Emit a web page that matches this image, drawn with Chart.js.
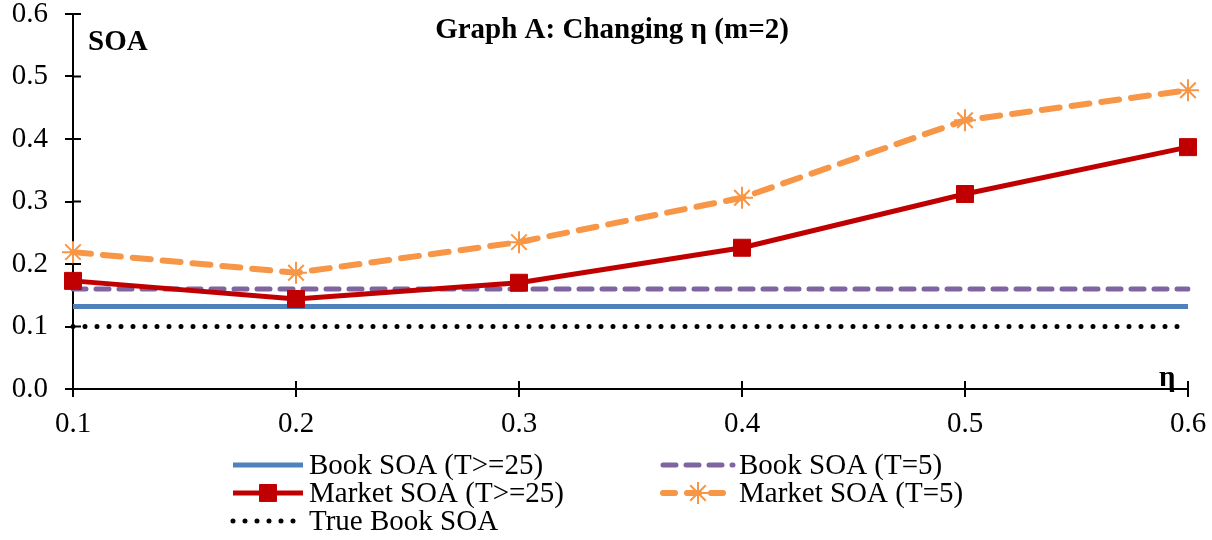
<!DOCTYPE html>
<html>
<head>
<meta charset="utf-8">
<script src="https://cdn.jsdelivr.net/npm/chart.js@4"></script>
<style>
  html, body { margin: 0; padding: 0; background: #fff; }
  canvas { display: block; }
</style>
</head>
<body>
<canvas id="soaChart" width="1212" height="540"></canvas>
<script>
const etaLabels = ["0.1", "0.2", "0.3", "0.4", "0.5", "0.6"];
const bookLong = [0.132, 0.132, 0.132, 0.132, 0.132, 0.132];
const bookShort = [0.16, 0.16, 0.16, 0.16, 0.16, 0.16];
const marketLong = [0.173, 0.144, 0.17, 0.226, 0.312, 0.387];
const marketShort = [0.219, 0.186, 0.235, 0.306, 0.43, 0.478];
const trueBook = [0.1, 0.1, 0.1, 0.1, 0.1, 0.1];
const yTicks = [0, 0.1, 0.2, 0.3, 0.4, 0.5, 0.6];

const serif = "'Liberation Serif', 'Times New Roman', serif";

// tick marks that cross the axes, title, axis captions and a two-column legend
const extras = {
  id: "extras",
  afterDraw(chart) {
    const { ctx, chartArea, scales } = chart;
    ctx.save();
    ctx.strokeStyle = "#000";
    ctx.lineWidth = 2;
    yTicks.forEach((v) => {
      const y = scales.y.getPixelForValue(v);
      ctx.beginPath();
      ctx.moveTo(chartArea.left, y);
      ctx.lineTo(chartArea.left + 8, y);
      ctx.stroke();
    });
    etaLabels.forEach((_, i) => {
      const x = scales.x.getPixelForValue(i);
      ctx.beginPath();
      ctx.moveTo(x, chartArea.bottom);
      ctx.lineTo(x, chartArea.bottom - 8);
      ctx.stroke();
    });

    ctx.fillStyle = "#000";
    ctx.font = "bold 29px " + serif;
    ctx.textAlign = "center";
    ctx.textBaseline = "middle";
    ctx.fillText("Graph A: Changing η (m=2)", 612, 31);
    ctx.textAlign = "left";
    ctx.fillText("SOA", 88, 43);
    ctx.fillText("η", 1159, 379);

    // legend
    ctx.font = "29px " + serif;
    const items = [
      { ds: 0, x: 233, y: 465 },
      { ds: 1, x: 663, y: 465 },
      { ds: 2, x: 233, y: 493 },
      { ds: 3, x: 663, y: 493 },
      { ds: 4, x: 233, y: 521 },
    ];
    items.forEach((it) => {
      const d = chart.data.datasets[it.ds];
      ctx.save();
      ctx.strokeStyle = d.borderColor;
      ctx.lineWidth = d.borderWidth;
      ctx.lineCap = d.borderCapStyle || "butt";
      ctx.setLineDash(d.legendDash || []);
      ctx.beginPath();
      ctx.moveTo(it.x, it.y);
      ctx.lineTo(it.x + 70, it.y);
      ctx.stroke();
      ctx.restore();
      if (d.pointStyle && d.pointRadius > 0) {
        ctx.save();
        ctx.strokeStyle = d.pointBorderColor;
        ctx.fillStyle = d.pointBackgroundColor;
        ctx.lineWidth = d.pointBorderWidth;
        Chart.helpers.drawPoint(ctx, {
          pointStyle: d.pointStyle,
          radius: d.pointRadius,
          borderWidth: d.pointBorderWidth,
          rotation: 0,
        }, it.x + 35, it.y);
        ctx.restore();
      }
      ctx.fillStyle = "#000";
      ctx.textAlign = "left";
      ctx.fillText(d.label, it.x + 76, it.y + 1);
    });
    ctx.restore();
  },
};

new Chart(document.getElementById("soaChart"), {
  type: "line",
  data: {
    labels: etaLabels,
    datasets: [
      {
        label: "Book SOA (T>=25)",
        data: bookLong,
        borderColor: "#4F81BD",
        borderWidth: 5,
        pointRadius: 0,
        order: 4,
      },
      {
        label: "Book SOA (T=5)",
        data: bookShort,
        borderColor: "#8064A2",
        borderWidth: 5,
        borderDash: [13, 10],
        legendDash: [13, 10],
        borderCapStyle: "round",
        pointRadius: 0,
        order: 3,
      },
      {
        label: "Market SOA (T>=25)",
        data: marketLong,
        borderColor: "#C00000",
        borderWidth: 5,
        pointStyle: "rect",
        pointRadius: 12,
        pointBackgroundColor: "#C00000",
        pointBorderColor: "#C00000",
        pointBorderWidth: 1,
        order: 1,
      },
      {
        label: "Market SOA (T=5)",
        data: marketShort,
        borderColor: "#F79646",
        borderWidth: 6,
        borderDash: [18, 12],
        legendDash: [12, 12],
        borderCapStyle: "round",
        pointStyle: "star",
        pointRadius: 11,
        pointBackgroundColor: "#F79646",
        pointBorderColor: "#F79646",
        pointBorderWidth: 2,
        order: 2,
      },
      {
        label: "True Book SOA",
        data: trueBook,
        borderColor: "#000",
        borderWidth: 5,
        borderDash: [0, 12],
        legendDash: [0, 12],
        borderCapStyle: "round",
        pointRadius: 0,
        order: 5,
      },
    ],
  },
  options: {
    responsive: false,
    animation: false,
    layout: { padding: { top: 0, right: 24, bottom: 95, left: 0 } },
    plugins: {
      legend: { display: false },
      tooltip: { enabled: false },
    },
    scales: {
      x: {
        offset: false,
        grid: { drawOnChartArea: false, color: "#000", lineWidth: 2, tickLength: 8, tickWidth: 2 },
        border: { color: "#000", width: 2 },
        ticks: { color: "#000", font: { family: serif, size: 29 }, padding: 10, maxRotation: 0 },
        afterFit(scale) {
          scale.height = 56;
          scale.paddingLeft = 0;
          scale.paddingRight = 0;
        },
      },
      y: {
        min: 0,
        max: 0.6,
        afterBuildTicks(scale) { scale.ticks = yTicks.map((v) => ({ value: v })); },
        grid: { drawOnChartArea: false, color: "#000", lineWidth: 2, tickLength: 8, tickWidth: 2 },
        border: { color: "#000", width: 2 },
        ticks: {
          color: "#000",
          font: { family: serif, size: 29 },
          padding: 17,
          callback: (v) => Number(v).toFixed(1),
        },
        afterFit(scale) {
          scale.width = 73;
          scale.paddingTop = 14;
          scale.paddingBottom = 0;
        },
      },
    },
  },
  plugins: [extras],
});
</script>
</body>
</html>
